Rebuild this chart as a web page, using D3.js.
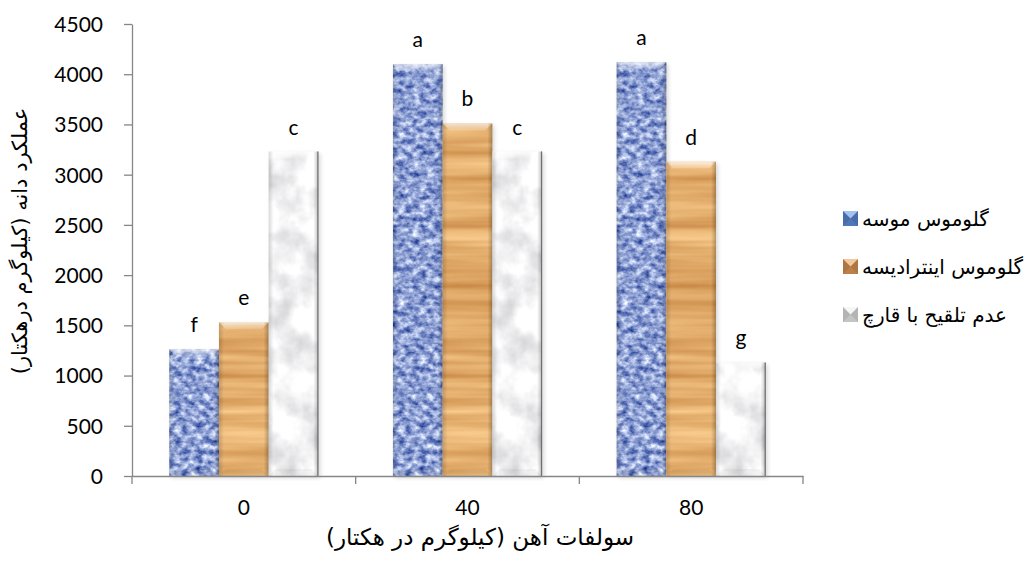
<!DOCTYPE html>
<html>
<head>
<meta charset="utf-8">
<script src="https://cdn.jsdelivr.net/npm/d3@7"></script>
<style>
  html, body { margin: 0; padding: 0; background: #ffffff; }
  svg { display: block; }
  .tick text { font-family: Lato, "Open Sans", sans-serif; font-size: 21px; fill: #000; }
  .fa { font-family: "DejaVu Sans", sans-serif; fill: #000; }
</style>
</head>
<body>
<svg id="chart" width="1032" height="568"></svg>
<script>
// Iron sulphate rate (kg/ha) on the x axis
const categories = ["0", "40", "80"];
const seriesNames = ["گلوموس موسه", "گلوموس اینترادیسه", "عدم تلقیح با قارچ"];
// Grain yield (kg/ha) per treatment
const glomusMosseae = [1260, 4100, 4120];
const glomusIntraradices = [1530, 3510, 3130];
const noInoculation = [3230, 3230, 1130];
// Mean-separation letters shown above each bar
const mosseaeLetters = ["f", "a", "a"];
const intraradicesLetters = ["e", "b", "d"];
const noInoculationLetters = ["c", "c", "g"];
const yTicks = [0, 500, 1000, 1500, 2000, 2500, 3000, 3500, 4000, 4500];
const xTitle = "سولفات آهن (کیلوگرم در هکتار)";
const yTitle = "عملکرد دانه (کیلوگرم درهکتار)";

const series = [
  { name: seriesNames[0], values: glomusMosseae, letters: mosseaeLetters, tex: "denim", key: "blue" },
  { name: seriesNames[1], values: glomusIntraradices, letters: intraradicesLetters, tex: "wood", key: "orange" },
  { name: seriesNames[2], values: noInoculation, letters: noInoculationLetters, tex: "marble", key: "gray" }
];

const svg = d3.select("#chart");
const plot = { left: 132, right: 803, top: 24, bottom: 476 };

const x = d3.scaleBand().domain(categories).range([plot.left, plot.right]).paddingInner(0).paddingOuter(0);
const inner = d3.scaleBand().domain(d3.range(series.length)).range([0, x.bandwidth()]).paddingOuter(0.75).paddingInner(0);
const y = d3.scaleLinear().domain([0, 4500]).range([plot.bottom, plot.top]);

// ---------- texture filters ----------
const defs = svg.append("defs");
function textureFilter(id, freq, octaves, seed, matrix) {
  const f = defs.append("filter").attr("id", id)
    .attr("x", 0).attr("y", 0).attr("width", 1).attr("height", 1)
    .attr("color-interpolation-filters", "sRGB");
  f.append("feTurbulence").attr("type", "fractalNoise").attr("baseFrequency", freq)
    .attr("numOctaves", octaves).attr("seed", seed).attr("result", "noise");
  f.append("feColorMatrix").attr("in", "noise").attr("type", "matrix").attr("values", matrix).attr("result", "col");
  f.append("feComposite").attr("in", "col").attr("in2", "SourceAlpha").attr("operator", "in");
}
textureFilter("denim", "0.14 0.18", 3, 7,
  "1.15 0 0 0 -0.02  1.05 0 0 0 0.10  0.65 0 0 0 0.50  0 0 0 0 1");
textureFilter("wood", "0.004 0.08", 3, 4,
  "0.32 0 0 0 0.72  0.45 0 0 0 0.44  0.48 0 0 0 0.17  0 0 0 0 1");
textureFilter("marble", "0.035 0.03", 4, 11,
  "0.38 0 0 0 0.77  0.38 0 0 0 0.77  0.37 0 0 0 0.78  0 0 0 0 1");

// bevel shading gradients
const gTop = defs.append("linearGradient").attr("id", "bevTop").attr("x1", 0).attr("y1", 0).attr("x2", 0).attr("y2", 1);
gTop.append("stop").attr("offset", 0).attr("stop-color", "#fff").attr("stop-opacity", 0.7);
gTop.append("stop").attr("offset", 1).attr("stop-color", "#fff").attr("stop-opacity", 0.15);
const gSide = defs.append("linearGradient").attr("id", "bevSide").attr("x1", 0).attr("y1", 0).attr("x2", 1).attr("y2", 0);
gSide.append("stop").attr("offset", 0).attr("stop-color", "#000").attr("stop-opacity", 0.15);
gSide.append("stop").attr("offset", 0.1).attr("stop-color", "#000").attr("stop-opacity", 0);
gSide.append("stop").attr("offset", 0.9).attr("stop-color", "#000").attr("stop-opacity", 0);
gSide.append("stop").attr("offset", 1).attr("stop-color", "#000").attr("stop-opacity", 0.25);

const shadow = defs.append("filter").attr("id", "shadow").attr("x", -0.1).attr("y", -0.1).attr("width", 1.2).attr("height", 1.3);
shadow.append("feGaussianBlur").attr("stdDeviation", 2);

// ---------- axes ----------
const yAxis = d3.axisLeft(y).tickValues(yTicks).tickFormat(d3.format("d"))
  .tickSize(8).tickSizeOuter(0).tickPadding(21);
const gy = svg.append("g").attr("transform", `translate(${plot.left},0)`).call(yAxis);
gy.selectAll("path, line").attr("stroke", "#868686").attr("stroke-width", 1.3);
gy.selectAll(".tick text").attr("dy", "0.35em");

const groups = svg.append("g").selectAll("g").data(categories).join("g")
  .attr("transform", d => `translate(${x(d)},0)`);

series.forEach((s, si) => {
  const bw = inner.bandwidth();
  groups.each(function (cat, ci) {
    const g = d3.select(this);
    const v = s.values[ci];
    const x0 = inner(si), y0 = y(v), h = y(0) - y(v);
    // soft shadow
    g.append("rect").attr("x", x0 + 2).attr("y", y0 + 2).attr("width", bw).attr("height", h)
      .attr("fill", "#000").attr("opacity", 0.15).attr("filter", "url(#shadow)");
    g.append("rect").attr("x", x0).attr("y", y0).attr("width", bw).attr("height", h)
      .attr("fill", "#888").attr("filter", `url(#${s.tex})`);
    // bevel: top highlight trapezoid, side shading, bottom strip
    const b = 7;
    g.append("path").attr("d", `M${x0},${y0} L${x0 + bw},${y0} L${x0 + bw - b},${y0 + b} L${x0 + b},${y0 + b} Z`)
      .attr("fill", "url(#bevTop)");
    g.append("rect").attr("x", x0).attr("y", y0).attr("width", bw).attr("height", h)
      .attr("fill", "url(#bevSide)");
    g.append("path").attr("d", `M${x0},${y0 + h} L${x0 + b},${y0 + h - b} L${x0 + bw - b},${y0 + h - b} L${x0 + bw},${y0 + h} Z`)
      .attr("fill", "#000").attr("opacity", 0.05);
    if (s.key === "gray") {
      g.append("line").attr("x1", x0 + bw - 0.5).attr("x2", x0 + bw - 0.5).attr("y1", y0).attr("y2", y0 + h)
        .attr("stroke", "#6f6f6f").attr("stroke-width", 1.2);
    }
    // significance letter
    g.append("text").attr("x", x0 + bw / 2).attr("y", y0 - 17)
      .attr("text-anchor", "middle")
      .style("font-family", "Lato, 'Open Sans', sans-serif").style("font-size", "21px")
      .text(s.letters[ci]);
  });
});

// x axis drawn over bar bases
const xAxis = d3.axisBottom(x).tickSize(0).tickPadding(24);
const gx = svg.append("g").attr("transform", `translate(0,${plot.bottom})`).call(xAxis);
gx.select(".domain").attr("stroke", "#868686").attr("stroke-width", 1.3);
// category separators
const seps = categories.map(c => x(c)).concat([x.range()[1]]);
gx.selectAll(".sep").data(seps).join("line").attr("class", "sep")
  .attr("x1", d => d).attr("x2", d => d).attr("y1", 0).attr("y2", 8)
  .attr("stroke", "#868686").attr("stroke-width", 1.3);

// axis titles
svg.append("text").attr("class", "fa").attr("direction", "rtl")
  .attr("x", 480).attr("y", 545)
  .attr("text-anchor", "middle").style("font-size", "23px").text(xTitle);
svg.append("text").attr("class", "fa").attr("direction", "rtl")
  .attr("transform", `translate(27,241) rotate(-90)`)
  .attr("text-anchor", "middle").style("font-size", "21px").text(yTitle);

// ---------- legend ----------
const legendColors = {
  blue: ["#4f76b8", "#a3c0ee"],
  orange: ["#bd8049", "#f4c89a"],
  gray: ["#c4c4c4", "#f6f6f6"]
};
const leg = svg.append("g").selectAll("g").data(series).join("g")
  .attr("transform", (d, i) => `translate(843,${211 + i * 48})`);
leg.append("rect").attr("width", 15).attr("height", 15).attr("fill", d => legendColors[d.key][0]);
leg.append("path").attr("d", "M0,0 L15,0 L7.5,7.5 Z").attr("fill", d => legendColors[d.key][1]);
leg.append("path").attr("d", "M0,0 L7.5,7.5 L0,15 Z M15,0 L7.5,7.5 L15,15 Z").attr("fill", "#000").attr("opacity", 0.08);
leg.append("text").attr("class", "fa").attr("direction", "rtl")
  .attr("x", 19).attr("y", 8).attr("dy", "0.35em").attr("text-anchor", "end")
  .style("font-size", "20px").text(d => d.name);
</script>
</body>
</html>
